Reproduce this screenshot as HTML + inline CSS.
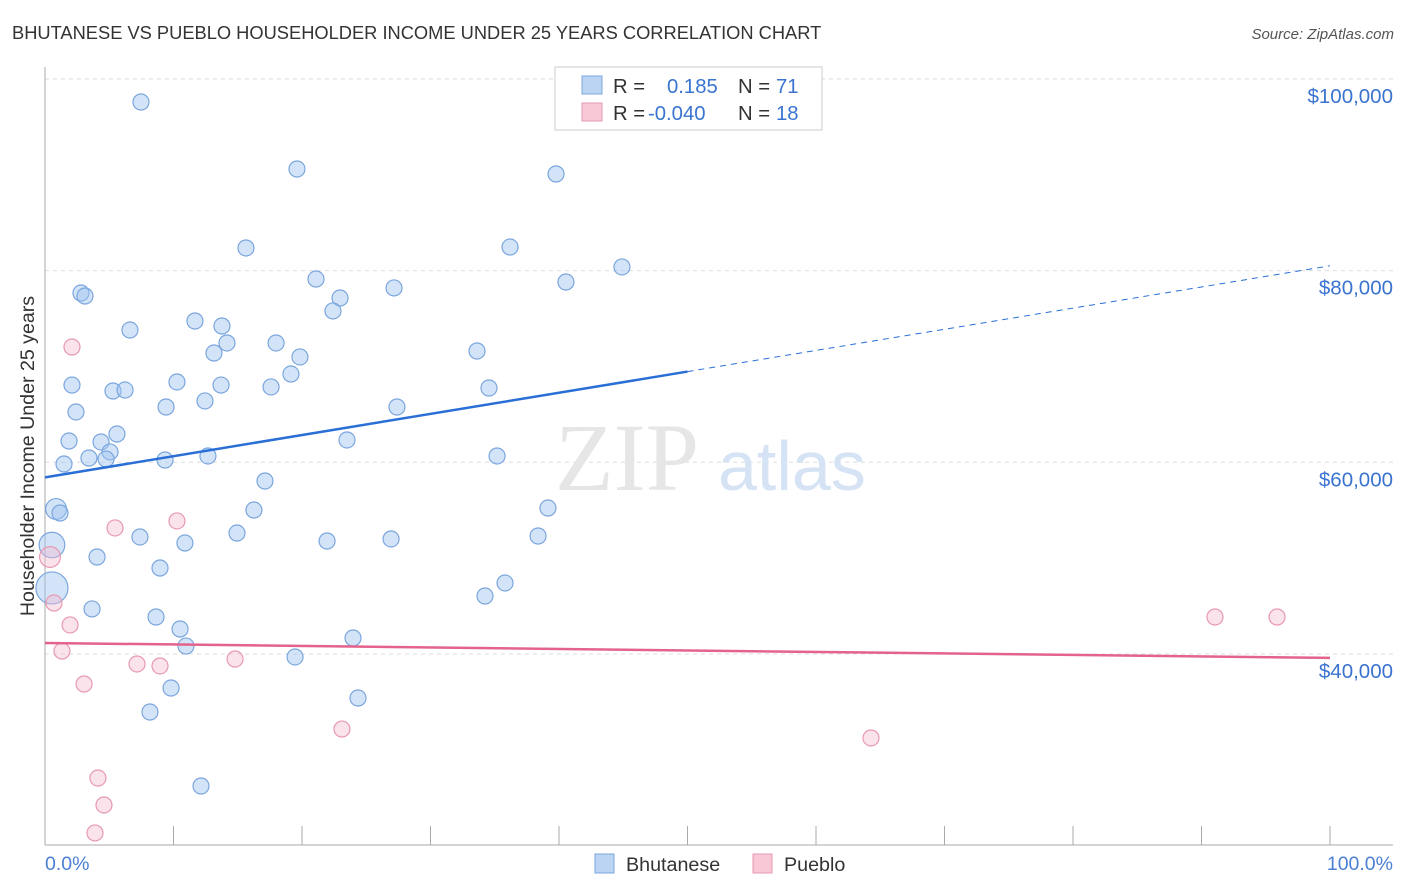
<!DOCTYPE html>
<html><head><meta charset="utf-8"><style>
body{margin:0;background:#fff;font-family:"Liberation Sans",sans-serif;}
svg{display:block}
</style></head><body>
<svg id="chart" width="1406" height="892">
<text x="12" y="39" font-size="18.3" fill="#333">BHUTANESE VS PUEBLO HOUSEHOLDER INCOME UNDER 25 YEARS CORRELATION CHART</text>
<text x="1394" y="39" font-size="15" fill="#555" font-style="italic" text-anchor="end">Source: ZipAtlas.com</text>
<g id="grid"></g>
<g><text x="555" y="490" font-size="96" fill="#e6e6e6" font-family="Liberation Serif,serif">ZIP</text><text x="718" y="490" font-size="70" fill="#d5e3f5">atlas</text></g>
<line x1="45" y1="67" x2="45" y2="845" stroke="#aaa"/>
<line x1="45" y1="845" x2="1393" y2="845" stroke="#aaa"/>
<g id="xticks"></g>
<g id="ylabels"></g>
<text transform="translate(34,456) rotate(-90)" font-size="19.6" fill="#333" text-anchor="middle">Householder Income Under 25 years</text>
<text x="45" y="870" font-size="19.5" fill="#4a7fd4">0.0%</text>
<text x="1393" y="870" font-size="19.5" fill="#4a7fd4" text-anchor="end">100.0%</text>
<g id="pts"></g>
<g id="trends"></g>
<g>
<rect x="555" y="67" width="267" height="63" fill="#fff" stroke="#ccc"/>
<rect x="582" y="76" width="20" height="18" fill="#bcd4f4" stroke="#7aa6de"/>
<rect x="582" y="103" width="20" height="18" fill="#f9c8d7" stroke="#e898b2"/>
<text x="613" y="93" font-size="20.3" fill="#333">R = </text><text x="667" y="93" font-size="20.3" fill="#3a74d0">0.185</text>
<text x="738" y="93" font-size="20.3" fill="#333">N = </text><text x="776" y="93" font-size="20.3" fill="#3a74d0">71</text>
<text x="613" y="120" font-size="20.3" fill="#333">R = </text><text x="648" y="120" font-size="20.3" fill="#3a74d0">-0.040</text>
<text x="738" y="120" font-size="20.3" fill="#333">N = </text><text x="776" y="120" font-size="20.3" fill="#3a74d0">18</text>
</g>
<g>
<rect x="595" y="854" width="19" height="19" fill="#bcd4f4" stroke="#7aa6de"/>
<text x="626" y="871" font-size="19.7" fill="#333">Bhutanese</text>
<rect x="753" y="854" width="19" height="19" fill="#f9c8d7" stroke="#e898b2"/>
<text x="784" y="871" font-size="19.7" fill="#333">Pueblo</text>
</g>
</svg>
<script>
const yTicks=[40000,60000,80000,100000];
const yTickLabels=["$40,000","$60,000","$80,000","$100,000"];
const xTicks=[0,10,20,30,40,50,60,70,80,90,100];
const bhuX=[7.47,19.61,39.77,15.64,36.19,44.90,21.09,40.54,2.80,3.11,27.16,22.96,22.41,11.67,13.77,6.61,14.16,17.98,13.15,19.84,33.62,19.14,2.10,10.27,13.70,17.59,5.29,6.23,34.55,12.45,9.42,2.41,27.39,1.87,5.60,4.36,23.50,5.06,3.42,4.75,12.68,9.34,35.18,1.48,17.12,0.86,1.17,39.14,16.26,14.94,7.39,10.89,21.95,26.93,38.37,0.54,4.05,8.95,0.54,35.80,34.24,3.66,8.64,10.51,23.97,10.97,19.46,9.81,24.36,8.17,12.14];
const bhuY=[97590,90600,90080,82360,82460,80380,79120,78810,77660,77350,78190,77140,75790,74740,74220,73800,72450,72450,71400,70990,71610,69210,68060,68380,68060,67860,67440,67540,67750,66400,65770,65250,65770,62220,62950,62120,62330,61080,60450,60340,60660,60240,60660,59820,58050,55130,54710,55230,55020,52620,52210,51580,51790,52000,52310,51370,50120,48970,46890,47410,46050,44700,43860,42610,41670,40830,39690,36450,35410,33950,26230];
const bhuSize=[1,1,1,1,1,1,1,1,1,1,1,1,1,1,1,1,1,1,1,1,1,1,1,1,1,1,1,1,1,1,1,1,1,1,1,1,1,1,1,1,1,1,1,1,1,1.3,1,1,1,1,1,1,1,1,1,1.6,1,1,2.0,1,1,1,1,1,1,1,1,1,1,1,1];
const pueX=[2.10,0.39,5.45,10.27,0.70,1.95,1.32,7.16,8.95,14.79,3.04,23.11,64.28,4.12,4.59,3.89,91.05,95.88];
const pueY=[72030,50120,53150,53880,45320,43030,40310,38960,38750,39480,36870,32170,31240,27060,24250,21330,43860,43860];
const pueSize=[1,1.3,1,1,1,1,1,1,1,1,1,1,1,1,1,1,1,1];
const bhuTrend=[58430,80500];
const pueTrend=[41150,39590];
const bhuSolidEnd=50;
const X=p=>45+p*12.85;
const Y=v=>654-(v-40000)/20000*191.7;
const NS="http://www.w3.org/2000/svg";
function mk(parent,tag,attrs){const e=document.createElementNS(NS,tag);for(const k in attrs)e.setAttribute(k,attrs[k]);document.getElementById(parent).appendChild(e);return e;}
yTicks.forEach((v,i)=>{
 const l=mk('grid','line',{x1:45,x2:1393,y1:Y(v),y2:Y(v),stroke:'#ddd','stroke-dasharray':'4,4'});
 
 
 const t=mk('ylabels','text',{x:1393,y:Y(v)+24,'font-size':20.5,fill:'#3a74d0','text-anchor':'end'});
 t.textContent=yTickLabels[i];
 
 
});
{const l=mk('grid','line',{x1:45,x2:1393,y1:79,y2:79,stroke:'#ddd','stroke-dasharray':'4,4'});
 
 }
xTicks.forEach(p=>{
 const l=mk('xticks','line',{x1:X(p),x2:X(p),y1:826,y2:845,stroke:'#aaa'});
 
 
});
bhuX.forEach((x,i)=>{
 const c=mk('pts','circle',{cx:X(x),cy:Y(bhuY[i]),r:8*bhuSize[i],fill:'rgba(160,196,240,0.45)',stroke:'#7aa6de','stroke-width':1.2});
 
 
});
pueX.forEach((x,i)=>{
 const c=mk('pts','circle',{cx:X(x),cy:Y(pueY[i]),r:8*pueSize[i],fill:'rgba(246,184,204,0.4)',stroke:'#e898b2','stroke-width':1.2});
 
 
});
const bAt=p=>bhuTrend[0]+(bhuTrend[1]-bhuTrend[0])*p/100;
let t1=mk('trends','line',{x1:X(0),y1:Y(bAt(0)),x2:X(bhuSolidEnd),y2:Y(bAt(bhuSolidEnd)),stroke:'#2a6fd6','stroke-width':2.5});


let t2=mk('trends','line',{x1:X(bhuSolidEnd),y1:Y(bAt(bhuSolidEnd)),x2:X(100),y2:Y(bAt(100)),stroke:'#2a6fd6','stroke-width':1,'stroke-dasharray':'6,5'});


let t3=mk('trends','line',{x1:X(0),y1:Y(pueTrend[0]),x2:X(100),y2:Y(pueTrend[1]),stroke:'#e3638d','stroke-width':2.5});


</script>
</body></html>
